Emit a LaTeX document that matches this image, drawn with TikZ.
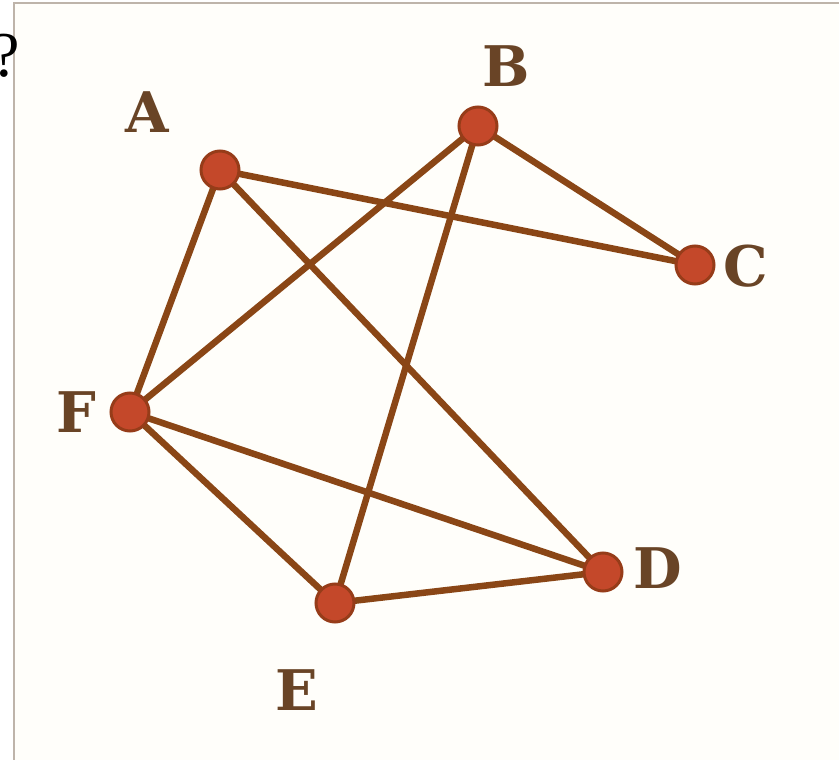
\documentclass[tikz,border=0pt]{standalone}
\usepackage{fontspec}
\setmainfont{Liberation Serif}
\newfontfamily\lblfont{DejaVu Serif}
\definecolor{edgebrown}{RGB}{138,70,22}
\definecolor{nodefill}{RGB}{196,72,42}
\definecolor{nodeedge}{RGB}{150,60,25}
\definecolor{lblbrown}{RGB}{105,68,38}
\definecolor{bgcream}{RGB}{255,254,250}
\definecolor{framegray}{RGB}{190,180,170}
\tikzset{
  vtx/.style={circle, fill=nodefill, draw=nodeedge, line width=3pt, minimum size=38pt, inner sep=0pt},
  lbl/.style={font=\lblfont\bfseries\fontsize{56}{56}\selectfont, text=lblbrown, inner sep=0pt},
  edge/.style={draw=edgebrown, line width=6.5pt, line cap=round}
}
\begin{document}
\begin{tikzpicture}[x=1pt,y=-1pt]
\useasboundingbox (0,0) rectangle (839,760);
\fill[white] (0,0) rectangle (839,760);
\fill[bgcream] (14,3) rectangle (839,760);
\draw[framegray, line width=1.5pt] (14,760) -- (14,3) -- (839,3);
\node[font=\fontsize{64}{64}\selectfont, anchor=base east, inner sep=0pt] (q) at (20,77) {?};
\coordinate (A) at (220,170);
\coordinate (B) at (478,126);
\coordinate (C) at (695,265);
\coordinate (D) at (603,572);
\coordinate (E) at (335,603);
\coordinate (F) at (130,412);
\draw[edge] (A) -- (C);
\draw[edge] (A) -- (F);
\draw[edge] (A) -- (D);
\draw[edge] (B) -- (C);
\draw[edge] (B) -- (F);
\draw[edge] (B) -- (E);
\draw[edge] (F) -- (D);
\draw[edge] (F) -- (E);
\draw[edge] (E) -- (D);
\node[vtx] (nA) at (A) {};
\node[vtx] (nB) at (B) {};
\node[vtx] (nC) at (C) {};
\node[vtx] (nD) at (D) {};
\node[vtx] (nE) at (E) {};
\node[vtx] (nF) at (F) {};
\node[lbl] (lA) at (147,112) {A};
\node[lbl] (lB) at (506,66) {B};
\node[lbl] (lC) at (746,266) {C};
\node[lbl] (lD) at (658,568) {D};
\node[lbl] (lE) at (297,690) {E};
\node[lbl] (lF) at (76,412) {F};
\end{tikzpicture}
\end{document}
